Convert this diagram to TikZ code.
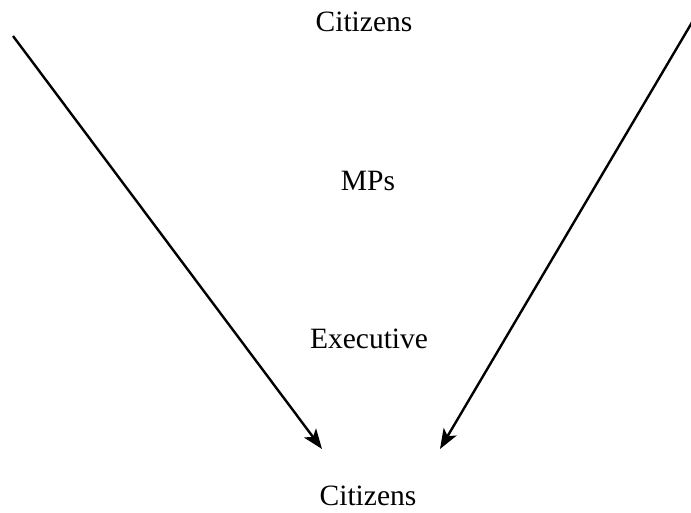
\documentclass[tikz,border=0pt]{standalone}
\usepackage{fontspec}
\setmainfont{Liberation Serif}
\usetikzlibrary{arrows.meta}
\begin{document}
\begin{tikzpicture}[x=1pt,y=-1pt,
  label/.style={font=\fontsize{29.5}{33}\selectfont, anchor=base, inner sep=0pt},
  flow/.style={line width=2.4pt, -{Stealth[length=20pt,width=15pt,inset=5pt]}}]
  \useasboundingbox (0,0) rectangle (691,513);
  \node[label] (ctop) at (364,32) {Citizens};
  \node[label] (mps) at (368,191) {MPs};
  \node[label] (exec) at (369,348) {Executive};
  \node[label] (cbot) at (368,505) {Citizens};
  \coordinate (lstart) at (13,36);
  \coordinate (lend) at (322,449);
  \coordinate (rstart) at (694,19);
  \coordinate (rend) at (440,449);
  \draw[flow] (lstart) -- (lend);
  \draw[flow] (rstart) -- (rend);
\end{tikzpicture}
\end{document}
